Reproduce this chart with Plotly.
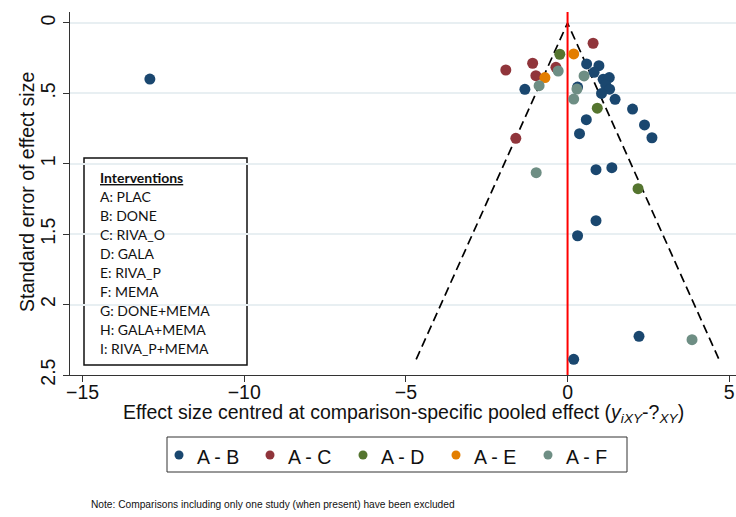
import plotly.graph_objects as go

# Comparison-adjusted funnel plot: effect centred at comparison-specific pooled effect vs its SE
comparisons = ["A - B", "A - C", "A - D", "A - E", "A - F"]
colors = ["#1a476f", "#90353b", "#55752f", "#e37e00", "#6e8e84"]

ab_effect = [-12.92, 0.59, 0.97, 0.82, 1.10, 1.29, 1.18, 1.30, 1.05, -1.32, 0.31, 1.47,
             2.01, 0.58, 2.38, 2.61, 0.37, 0.88, 1.37, 0.88, 0.31, 2.21, 0.19]
ab_se = [0.398, 0.291, 0.303, 0.350, 0.400, 0.388, 0.440, 0.470, 0.500, 0.471, 0.455, 0.542,
         0.611, 0.687, 0.724, 0.815, 0.786, 1.042, 1.028, 1.404, 1.511, 2.225, 2.389]

ac_effect = [0.79, -1.08, -1.91, -0.36, -0.98, -1.60]
ac_se = [0.144, 0.286, 0.334, 0.315, 0.374, 0.819]

ad_effect = [-0.24, 0.92, 2.18]
ad_se = [0.222, 0.605, 1.177]

ae_effect = [0.19, -0.70]
ae_se = [0.220, 0.388]

af_effect = [-0.29, 0.51, -0.88, 0.29, 0.19, -0.97, 3.85]
af_se = [0.341, 0.376, 0.445, 0.469, 0.540, 1.063, 2.249]

effects = [ab_effect, ac_effect, ad_effect, ae_effect, af_effect]
ses = [ab_se, ac_se, ad_se, ae_se, af_se]

interventions = ["A: PLAC", "B: DONE", "C: RIVA_O", "D: GALA", "E: RIVA_P", "F: MEMA",
                 "G: DONE+MEMA", "H: GALA+MEMA", "I: RIVA_P+MEMA"]

x_ticks = [-15, -10, -5, 0, 5]
y_ticks = [0, 0.5, 1, 1.5, 2, 2.5]
y_ticklabels = ["0", ".5", "1", "1.5", "2", "2.5"]

# figure geometry (pixels)
W, H = 736, 517
L, R, T, B = 70, 736, 12, 375


def px_x(p):
    return (p - L) / (R - L)


def px_y(p):
    return (B - p) / (B - T)


fig = go.Figure()

# pseudo 95% confidence funnel
se_max = max(max(s) for s in ses)
fig.add_trace(go.Scatter(
    x=[-1.96 * se_max, 0, 1.96 * se_max], y=[se_max, 0, se_max],
    mode="lines", line=dict(color="black", width=1.7, dash="9px,5px"),
    showlegend=False, hoverinfo="skip"))

# line of no difference from pooled effect
fig.add_trace(go.Scatter(
    x=[0, 0], y=[-0.078, 2.5], mode="lines",
    line=dict(color="#ff0000", width=2), showlegend=False, hoverinfo="skip"))

for name, col, xs, ys in zip(comparisons, colors, effects, ses):
    fig.add_trace(go.Scatter(
        x=xs, y=ys, mode="markers", name=name, showlegend=False,
        marker=dict(color=col, size=11, line=dict(width=0))))

font_main = "Liberation Sans, Arial, sans-serif"
fs = 19.5

fig.update_layout(
    width=W, height=H,
    margin=dict(l=L, r=W - R, t=T, b=H - B),
    paper_bgcolor="white", plot_bgcolor="white",
    font=dict(family=font_main, size=fs, color="#111"),
    showlegend=False,
    xaxis=dict(
        range=[-15.39, 5.21], tickvals=x_ticks, ticks="outside", ticklen=6,
        tickcolor="#333", showline=True, linecolor="#333", linewidth=1.2,
        showgrid=False, zeroline=False, tickfont=dict(size=fs),
        ticklabelstandoff=-7),
    yaxis=dict(
        range=[2.5, -0.078], tickvals=y_ticks, ticktext=y_ticklabels,
        ticks="outside", ticklen=6, tickcolor="#333", tickangle=-90,
        showline=True, linecolor="#333", linewidth=1.2,
        showgrid=True, gridcolor="#e8eff2", gridwidth=1.5,
        zeroline=False, tickfont=dict(size=fs)),
)

annotations = []
shapes = []

# axis titles
annotations.append(dict(
    text="Effect size centred at comparison-specific pooled effect "
         "(<i>y</i><sub><i>iXY</i></sub>-?<sub><i>XY</i></sub>)",
    x=0.5, y=px_y(413), xref="paper", yref="paper", showarrow=False,
    xanchor="center", yanchor="middle", font=dict(size=fs)))
annotations.append(dict(
    text="Standard error of effect size", textangle=-90,
    x=px_x(27), y=px_y(192), xref="paper", yref="paper", showarrow=False,
    xanchor="center", yanchor="middle", font=dict(size=fs)))

# legend row below the plot
leg_marker_x = [179, 270, 363, 456, 548]
shapes.append(dict(type="rect", xref="paper", yref="paper",
                   x0=px_x(167), x1=px_x(627), y0=px_y(472), y1=px_y(437),
                   line=dict(color="#333", width=1), fillcolor="white"))
for name, col, mx in zip(comparisons, colors, leg_marker_x):
    r = 4.5
    shapes.append(dict(type="circle", xref="paper", yref="paper",
                       x0=px_x(mx - r), x1=px_x(mx + r), y0=px_y(455 + r), y1=px_y(455 - r),
                       line=dict(width=0), fillcolor=col))
    annotations.append(dict(
        text=name, x=px_x(mx + 16), y=px_y(457), xref="paper", yref="paper",
        showarrow=False, xanchor="left", yanchor="middle",
        font=dict(size=fs, family=font_main, color="#111")))

# intervention key
key_font = "Lato, Open Sans, sans-serif"
shapes.append(dict(type="rect", xref="paper", yref="paper",
                   x0=px_x(84), x1=px_x(247), y0=px_y(365), y1=px_y(158),
                   line=dict(color="#111", width=1.5), fillcolor="white", layer="below"))
annotations.append(dict(
    text="<b><u>Interventions</u></b>", x=px_x(98), y=px_y(177),
    xref="paper", yref="paper", showarrow=False, xanchor="left", yanchor="middle",
    font=dict(size=14, family=key_font, color="#111")))
for i, lab in enumerate(interventions):
    annotations.append(dict(
        text=lab, x=px_x(98), y=px_y(196 + i * 19.1),
        xref="paper", yref="paper", showarrow=False, xanchor="left", yanchor="middle",
        font=dict(size=14, family=key_font, color="#111")))

# footnote
annotations.append(dict(
    text="Note: Comparisons including only one study (when present) have been excluded",
    x=px_x(89), y=px_y(504), xref="paper", yref="paper", showarrow=False,
    xanchor="left", yanchor="middle", font=dict(size=10.2, family=font_main, color="#111")))

fig.update_layout(annotations=annotations, shapes=shapes)

fig.write_html("out.html")
